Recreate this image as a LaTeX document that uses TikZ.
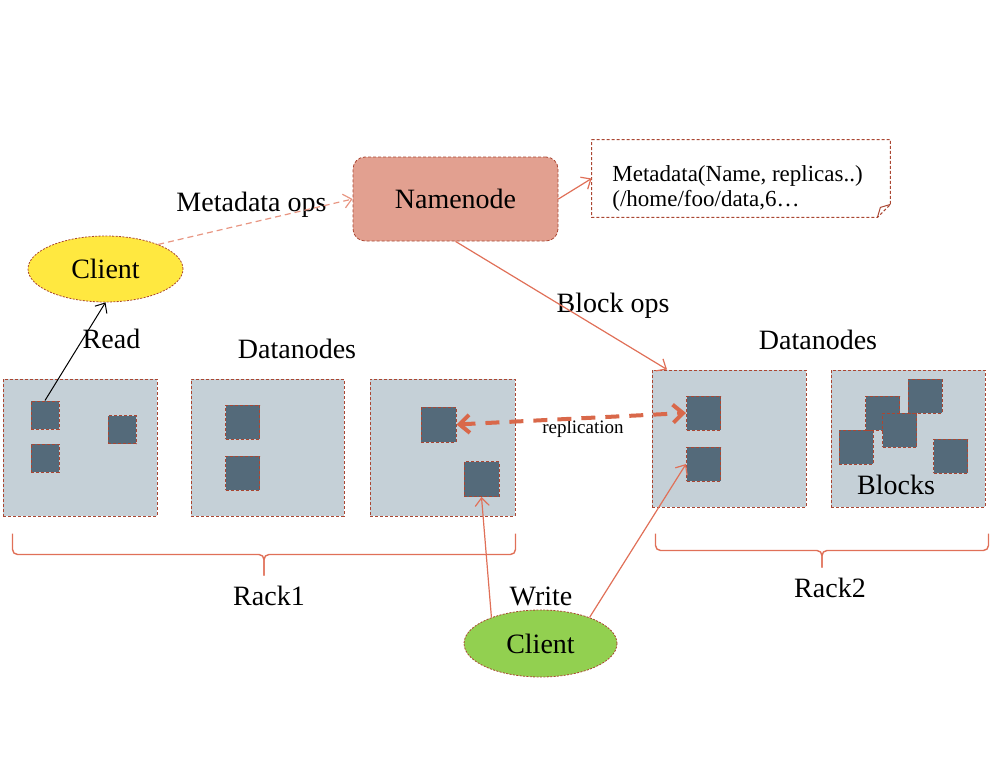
\documentclass[tikz,border=0pt]{standalone}
\usepackage{fontspec}
\setmainfont{Liberation Serif}
\usetikzlibrary{arrows.meta, shapes.geometric, calc}
\definecolor{edge}{RGB}{170,70,50}
\definecolor{nnfill}{RGB}{226,160,144}
\definecolor{rackfill}{RGB}{197,208,215}
\definecolor{blkfill}{RGB}{84,106,122}
\definecolor{clientA}{RGB}{255,232,64}
\definecolor{clientB}{RGB}{146,208,80}
\definecolor{salmon}{RGB}{224,112,88}
\definecolor{lightsalmon}{RGB}{232,150,130}
\definecolor{replcol}{RGB}{217,104,74}
\newcommand{\dblock}[4]
{
	\node[blk, minimum size=#4] at (#2, #3) (#1){}
}
\newcommand{\rackBrace}[3]
{
	\draw[rackbrace] (#1) |- ($(#1)!0.5!(#2)+(0,#3)$) -- +(0,#3);
	\draw[rackbrace] (#2) |- ($(#1)!0.5!(#2)+(0,#3)$) -- +(0,#3)
}

\begin{document}
\begin{tikzpicture}[x=0.5pt, y=-0.5pt,
			rack/.style={draw=edge, dash pattern=on 1.5pt off 1pt, line width=0.5pt,
				fill=rackfill, minimum height=68.5pt, inner sep=0},
			blk/.style={draw=edge, dash pattern=on 1.5pt off 1pt, line width=0.5pt,
				fill=blkfill, inner sep=0},
			client/.style={ellipse, draw=edge, dash pattern=on 1pt off 0.7pt, inner sep=0,
				font=\fontsize{14}{16}\selectfont},
			lbl/.style={font=\fontsize{14}{16}\selectfont},
			link/.style={draw=salmon, line width=0.6pt, -{Straight Barb[length=4pt, width=7pt]}},
			rackbrace/.style={draw=salmon, line width=0.7pt, rounded corners=2.5pt}]

			% namenode and its metadata
			\node[draw=edge, dash pattern=on 1.5pt off 1pt, fill=nnfill, rounded corners=6pt,
				minimum width=102.5pt, minimum height=42pt, lbl] at (455.5, 199) (nn){Namenode};
			\node[minimum width=149pt, minimum height=38.5pt, inner sep=0] at (741, 178.5) (meta){};
			\draw[edge, dash pattern=on 1.5pt off 1pt, line width=0.5pt] (meta.north west) -- (meta.north east)
				-- ([yshift=6.5pt]meta.south east) -- ([xshift=-6.5pt]meta.south east) -- (meta.south west) -- cycle;
			\draw[edge, line width=0.5pt] ([xshift=-6.5pt]meta.south east) -- ([xshift=-5pt, yshift=5pt]meta.south east)
				-- ([yshift=6.5pt]meta.south east);
			\node[anchor=west, align=left, font=\fontsize{11.5}{12.5}\selectfont, inner sep=0] at (612, 188) (metatxt)
				{Metadata(Name, replicas..)\\(/home/foo/data,6\ldots};

			% clients
			\node[client, fill=clientA, minimum width=77.5pt, minimum height=33pt] at (105.5, 269) (cl1){Client};
			\node[client, fill=clientB, minimum width=76.5pt, minimum height=33.5pt] at (540.5, 643.5) (cl2){Client};

			% racks
			\node[rack, minimum width=77pt] at (80, 447.5) (rA){};
			\node[rack, minimum width=76.5pt] at (267.5, 447.5) (rB){};
			\node[rack, minimum width=72.5pt] at (442.5, 447.5) (rC){};
			\node[rack, minimum width=77pt] at (729, 438.5) (rD){};
			\node[rack, minimum width=77pt] at (908, 438.5) (rE){};

			% blocks
			\dblock{a1}{45}{415}{14pt};
			\dblock{a2}{45}{458}{14pt};
			\dblock{a3}{122}{429.5}{14pt};
			\dblock{b1}{242.5}{422}{17pt};
			\dblock{b2}{242.5}{473}{17pt};
			\dblock{c1}{438.5}{424.5}{17.5pt};
			\dblock{c2}{481.5}{479}{17.5pt};
			\dblock{d1}{703.5}{413}{17pt};
			\dblock{d2}{703.5}{464}{17pt};
			\dblock{e1}{856}{447}{17pt};
			\dblock{e2}{882.5}{413}{17pt};
			\dblock{e3}{899.5}{430}{17pt};
			\dblock{e4}{925}{396}{17pt};
			\dblock{e5}{950.5}{456}{17pt};

			% labels
			\node[lbl] at (251.5, 205) (metaops){Metadata ops};
			\node[lbl] at (613, 306) (blockops){Block ops};
			\node[lbl] at (111.5, 339) (read){Read};
			\node[lbl] at (541, 596) (write){Write};
			\node[lbl] at (297, 349) (dn1){Datanodes};
			\node[lbl] at (818, 340) (dn2){Datanodes};
			\node[lbl] at (896, 485) (blocks){Blocks};
			\node[lbl] at (269, 596) (rack1){Rack1};
			\node[lbl] at (830, 588) (rack2){Rack2};
			\node[font=\fontsize{9.5}{11}\selectfont] at (583, 429) (repl){replication};

			% connections
			\draw[link, draw=lightsalmon, dash pattern=on 3pt off 2pt] (cl1.25) -- (nn.west);
			\draw[link] (nn.east) -- (meta.west);
			\draw[link] (nn.south) -- ($(rD.north west)!0.1!(rD.north east)$);
			\draw[line width=0.5pt, -{Straight Barb[length=4pt, width=7pt]}] (a1.north) -- (cl1.south);
			\draw[link] (cl2.152) -- (c2.south);
			\draw[link] (cl2.28) -- (d2.west);
			\draw[draw=replcol, line width=2pt, dash pattern=on 7pt off 5pt,
				{Straight Barb[length=5pt, width=9pt]}-{Straight Barb[length=5pt, width=9pt]}] (c1.east) -- (d1.west);

			% rack braces
			\coordinate (b1l) at ($(rA.south west)+(10,17)$);
			\coordinate (b1r) at ($(rC.south east)+(0,17)$);
			\coordinate (b2l) at ($(rD.south west)+(4,26)$);
			\coordinate (b2r) at ($(rE.south east)+(3,26)$);
			\rackBrace{b1l}{b1r}{21};
			\rackBrace{b2l}{b2r}{17};

			\useasboundingbox (0, 0) rectangle (992, 776);
		\end{tikzpicture}
\end{document}
